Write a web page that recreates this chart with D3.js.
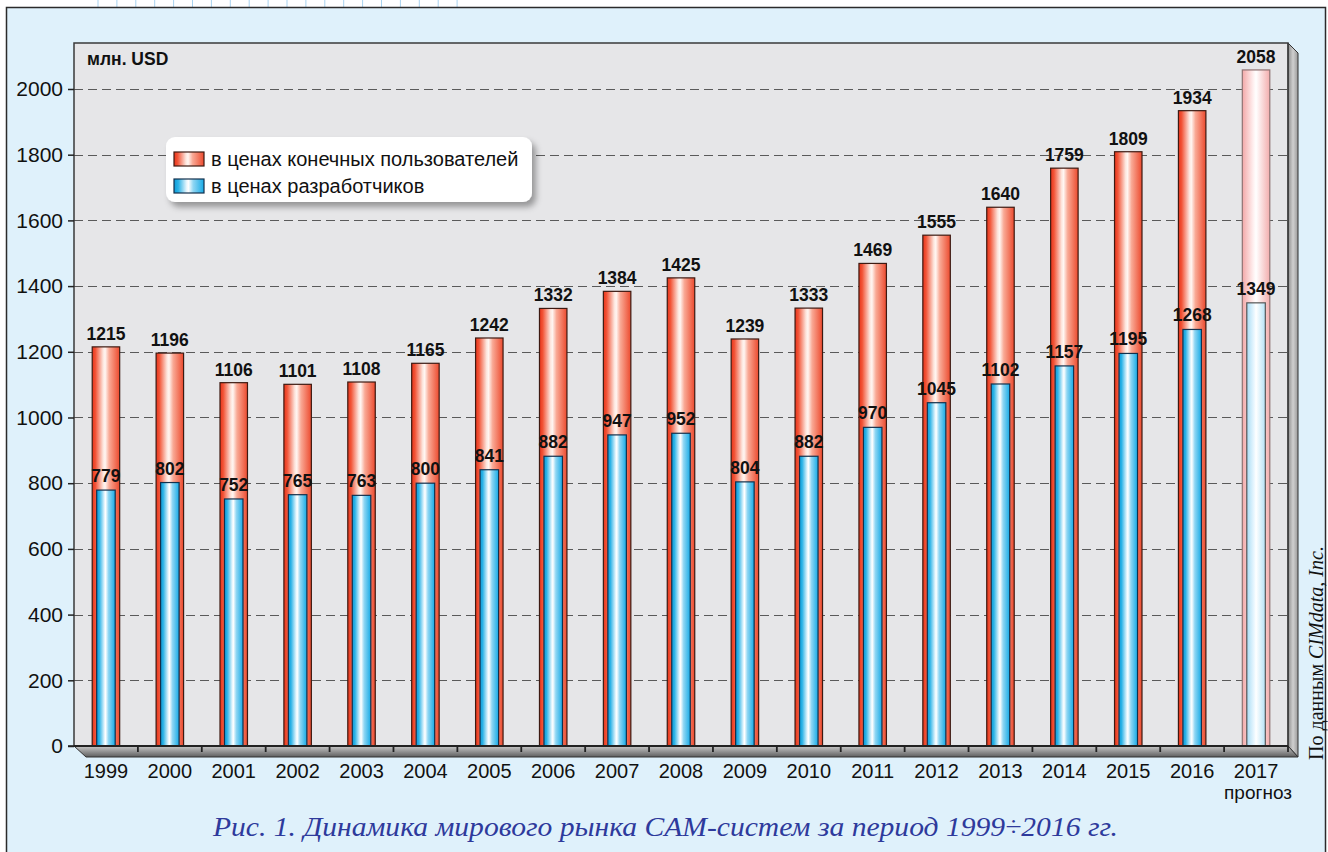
<!DOCTYPE html>
<html><head><meta charset="utf-8">
<script src="https://cdn.jsdelivr.net/npm/d3@7"></script>
<style>
html,body{margin:0;padding:0;background:#fff;}
svg{display:block;}
</style></head>
<body>
<svg id="c" width="1328" height="852"></svg>
<script>
const years = ["1999","2000","2001","2002","2003","2004","2005","2006","2007","2008","2009","2010","2011","2012","2013","2014","2015","2016","2017"];
const endUserValues = [1215,1196,1106,1101,1108,1165,1242,1332,1384,1425,1239,1333,1469,1555,1640,1759,1809,1934,2058];
const developerValues = [779,802,752,765,763,800,841,882,947,952,804,882,970,1045,1102,1157,1195,1268,1349];
const yTicks = [0,200,400,600,800,1000,1200,1400,1600,1800,2000];
const forecastYear = "2017";
const forecastLabel = "прогноз";
const legendLabels = ["в ценах конечных пользователей","в ценах разработчиков"];
const unitLabel = "млн. USD";
const sourceLabel = ["По данным ", "CIMdata, Inc."];
const captionText = "Рис. 1. Динамика мирового рынка CAM-систем за период 1999÷2016 гг.";

const svg = d3.select("#c");
const W = 1328, H = 852;
const plot = {left:74, right:1288, top:43, bottom:746};
const depth = 10;

const x = d3.scaleBand().domain(years).range([plot.left, plot.right]).padding(0);
const y = d3.scaleLinear().domain([0, 2140]).range([plot.bottom, plot.top]);

const defs = svg.append("defs");
function hgrad(id, stops){
  const g = defs.append("linearGradient").attr("id",id).attr("x1","0").attr("x2","1").attr("y1","0").attr("y2","0");
  stops.forEach(s=>g.append("stop").attr("offset",s[0]).attr("stop-color",s[1]));
}
hgrad("gRed",[["0%","#e8341a"],["12%","#f25437"],["40%","#fde6de"],["47%","#fff6f2"],["62%","#f9a995"],["100%","#ec4a2e"]]);
hgrad("gBlue",[["0%","#0d9bd8"],["14%","#2ab2e6"],["42%","#e6f6fd"],["48%","#ffffff"],["64%","#8fd6f3"],["100%","#16aae6"]]);
hgrad("gRedF",[["0%","#f3a8a8"],["40%","#fff0f0"],["50%","#ffffff"],["100%","#f3adad"]]);
hgrad("gBlueF",[["0%","#a8dcf5"],["42%","#eef9ff"],["50%","#ffffff"],["100%","#b5e2f6"]]);
hgrad("gSide",[["0%","#8c8c8c"],["50%","#cfcfcf"],["100%","#9a9a9a"]]);
const vg = defs.append("linearGradient").attr("id","gFloor").attr("x1","0").attr("x2","0").attr("y1","0").attr("y2","1");
vg.append("stop").attr("offset","0%").attr("stop-color","#c9c9c9");
vg.append("stop").attr("offset","100%").attr("stop-color","#5e5e5e");
const sh = defs.append("filter").attr("id","shadow").attr("x","-10%").attr("y","-20%").attr("width","130%").attr("height","160%");
sh.append("feDropShadow").attr("dx",4).attr("dy",5).attr("stdDeviation",3).attr("flood-color","#000").attr("flood-opacity",0.35);

// top strip
svg.append("rect").attr("x",0).attr("y",0).attr("width",W).attr("height",H).attr("fill","#fff");
const stripX = d3.range(20).map(i=>98+i*18.9);
svg.append("g").selectAll("line").data(stripX).join("line")
  .attr("x1",d=>d).attr("x2",d=>d).attr("y1",0).attr("y2",7)
  .attr("stroke","#a9d3ef").attr("stroke-width",1);

// outer panel
svg.append("rect").attr("x",6.5).attr("y",7.5).attr("width",1319).attr("height",H+10)
  .attr("fill","#dff1fb").attr("stroke","#2b2b2b").attr("stroke-width",1.5);

// plot background
svg.append("rect").attr("x",plot.left).attr("y",plot.top).attr("width",plot.right-plot.left).attr("height",plot.bottom-plot.top)
  .attr("fill","#e6e6e8");
// right side wall
svg.append("path")
  .attr("d",`M${plot.right},${plot.top} L${plot.right+depth},${plot.top+depth} L${plot.right+depth},${plot.bottom+depth+1} L${plot.right},${plot.bottom} Z`)
  .attr("fill","url(#gSide)").attr("stroke","#333").attr("stroke-width",1);
// floor
svg.append("path")
  .attr("d",`M${plot.left},${plot.bottom} L${plot.right},${plot.bottom} L${plot.right+depth},${plot.bottom+depth+1} L${plot.left+depth+2},${plot.bottom+depth+1} Z`)
  .attr("fill","url(#gFloor)").attr("stroke","#333").attr("stroke-width",1);

// gridlines
svg.append("g").selectAll("line").data(yTicks.filter(d=>d>0)).join("line")
  .attr("x1",plot.left).attr("x2",plot.right)
  .attr("y1",d=>Math.round(y(d))+0.5).attr("y2",d=>Math.round(y(d))+0.5)
  .attr("stroke","#5a5a5a").attr("stroke-width",1.2).attr("stroke-dasharray","9,5");

// plot border (left & top)
svg.append("path")
  .attr("d",`M${plot.left},${plot.bottom} L${plot.left},${plot.top} L${plot.right},${plot.top} L${plot.right},${plot.bottom}`)
  .attr("fill","none").attr("stroke","#3a3a3a").attr("stroke-width",1.5);

// y axis
const yAxis = d3.axisLeft(y).tickValues(yTicks).tickSize(6).tickPadding(5).tickFormat(d3.format("d"));
const ya = svg.append("g").attr("transform",`translate(${plot.left},0)`).call(yAxis);
ya.select(".domain").remove();
ya.selectAll(".tick line").attr("stroke","#222").attr("stroke-width",1.5);
ya.selectAll(".tick text").attr("font-family","'Liberation Sans',Arial,sans-serif").attr("font-size",21).attr("fill","#111");

// bars
const redW = x.bandwidth()*0.43, blueW = x.bandwidth()*0.29;
const cx = d => x(d)+x.bandwidth()/2;
const bars = svg.append("g");
bars.selectAll("rect.red").data(years).join("rect").attr("class","red")
  .attr("x",(d)=>cx(d)-redW/2).attr("width",redW)
  .attr("y",(d,i)=>y(endUserValues[i])).attr("height",(d,i)=>y(0)-y(endUserValues[i]))
  .attr("fill",d=>d===forecastYear?"url(#gRedF)":"url(#gRed)")
  .attr("stroke",d=>d===forecastYear?"#8f7373":"#3d1a12").attr("stroke-width",1.2);
bars.selectAll("rect.blue").data(years).join("rect").attr("class","blue")
  .attr("x",(d)=>cx(d)-blueW/2).attr("width",blueW)
  .attr("y",(d,i)=>y(developerValues[i])).attr("height",(d,i)=>y(0)-y(developerValues[i]))
  .attr("fill",d=>d===forecastYear?"url(#gBlueF)":"url(#gBlue)")
  .attr("stroke",d=>d===forecastYear?"#555":"#13304c").attr("stroke-width",1.2);

// x axis line and ticks
svg.append("line").attr("x1",plot.left).attr("x2",plot.right).attr("y1",plot.bottom).attr("y2",plot.bottom)
  .attr("stroke","#222").attr("stroke-width",2);
const xa = svg.append("g").attr("transform",`translate(0,${plot.bottom})`)
  .call(d3.axisBottom(x).tickSize(0).tickPadding(0).tickFormat(""));
xa.select(".domain").remove();
svg.append("g").selectAll("line").data(years.slice(1).concat(["end"])).join("line")
  .attr("x1",d=>d==="end"?plot.right:x(d)).attr("x2",d=>d==="end"?plot.right:x(d))
  .attr("y1",plot.bottom).attr("y2",plot.bottom+6)
  .attr("stroke","#222").attr("stroke-width",1.8);
svg.append("line").attr("x1",plot.left-6).attr("x2",plot.left).attr("y1",plot.bottom).attr("y2",plot.bottom).attr("stroke","#222").attr("stroke-width",1.5);
svg.append("g").selectAll("text").data(years).join("text")
  .attr("x",d=>cx(d)).attr("y",778).attr("text-anchor","middle")
  .attr("font-family","'Liberation Sans',Arial,sans-serif").attr("font-size",20).attr("fill","#111")
  .text(d=>d);
svg.append("text").attr("x",cx(forecastYear)+2).attr("y",799).attr("text-anchor","middle")
  .attr("font-family","'Liberation Sans',Arial,sans-serif").attr("font-size",19).attr("fill","#111")
  .text(forecastLabel);

// value labels
const lblFont = "'Liberation Sans',Arial,sans-serif";
svg.append("g").selectAll("text").data(years).join("text")
  .attr("x",d=>cx(d)).attr("y",(d,i)=>y(endUserValues[i])-7).attr("text-anchor","middle")
  .attr("font-family",lblFont).attr("font-weight","bold").attr("font-size",17.5).attr("fill","#111")
  .text((d,i)=>endUserValues[i]);
svg.append("g").selectAll("text").data(years).join("text")
  .attr("x",d=>cx(d)).attr("y",(d,i)=>y(developerValues[i])-8).attr("text-anchor","middle")
  .attr("font-family",lblFont).attr("font-weight","bold").attr("font-size",17.5).attr("fill","#111")
  .text((d,i)=>developerValues[i]);

// unit label
svg.append("text").attr("x",87).attr("y",65)
  .attr("font-family",lblFont).attr("font-weight","bold").attr("font-size",17.5).attr("fill","#111")
  .text(unitLabel);

// legend
const lg = svg.append("g");
lg.append("rect").attr("x",166).attr("y",137).attr("width",366).attr("height",65).attr("rx",9)
  .attr("fill","#fff").attr("filter","url(#shadow)");
const swFills = ["url(#gRed)","url(#gBlue)"], swStroke=["#3d1a12","#13304c"];
legendLabels.forEach((t,i)=>{
  lg.append("rect").attr("x",174).attr("y",152+i*27).attr("width",30).attr("height",14)
    .attr("fill",swFills[i]).attr("stroke",swStroke[i]).attr("stroke-width",1.2);
  lg.append("text").attr("x",211).attr("y",166+i*27)
    .attr("font-family",lblFont).attr("font-size",20).attr("fill","#111").text(t);
});

// source (rotated)
const st = svg.append("text").attr("transform","translate(1323,653) rotate(-90)")
  .attr("text-anchor","middle").attr("font-family","'Liberation Serif','Times New Roman',serif")
  .attr("font-size",20).attr("fill","#111");
st.append("tspan").text(sourceLabel[0]);
st.append("tspan").attr("font-style","italic").text(sourceLabel[1]);

// caption
svg.append("text").attr("x",213).attr("y",836)
  .attr("font-family","'Liberation Serif','Times New Roman',serif").attr("font-style","italic")
  .attr("font-size",28).attr("fill","#2e3a9c")
  .attr("textLength",905).attr("lengthAdjust","spacingAndGlyphs")
  .text(captionText);
</script>
</body></html>
